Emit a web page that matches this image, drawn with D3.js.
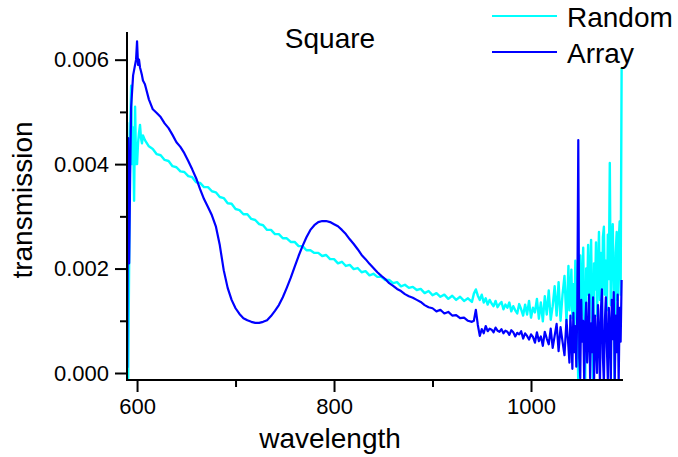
<!DOCTYPE html>
<html>
<head>
<meta charset="utf-8">
<script src="https://cdn.jsdelivr.net/npm/d3@7"></script>
<style>
  html, body { margin: 0; padding: 0; background: #fff; }
  svg { display: block; font-family: "Liberation Sans", Arial, sans-serif; }
</style>
</head>
<body>
<svg id="chart" width="678" height="457"></svg>
<script>
// ---------------- data ----------------
const wavelength = [
  590,591,592,593,594,595,596,597,598,599,600,601,602,603,604,605,606,
  608,612,616,620,624,628,632,636,640,644,
  648,652,656,660,664,668,672,676,680,684,
  688,692,696,700,704,708,712,716,720,724,
  728,732,736,740,744,748,752,756,760,764,
  768,772,776,780,784,788,792,796,800,804,
  808,812,816,820,824,828,832,836,840,844,
  848,852,856,860,864,868,872,876,880,884,
  888,892,896,900,904,908,912,916,920,924,
  928,932,936,940,
  942,944,946,948,950,952,954,956,958,960,
  962,964,966,968,970,972,974,976,978,980,
  982,984,986,988,990,992,994,996,998,1000,
  1002,1004,1006,1008,1010,1012,1014,1016,1018,1020,
  1022,1024,1026,1028,1030,1032,1034,1036,1038,
  1039,1040,1041,1042,1043,1044,1045,1046,1047,1048,
  1049,1050,1051,1052,1053,1054,1055,1056,1057,1058,
  1059,1060,1061,1062,1063,1064,1065,1066,1067,1068,
  1069,1070,1071,1072,1073,1074,1075,1076,1077,1078,
  1079,1080,1081,1082,1083,1084,1085,1086,1087,1088,
  1089,1090,1091,1092
];

const randomValues = [
  0.0048,-0.0001,0.0022,0.0046,0.0055,0.0040,0.0047,0.0033,0.0051,0.0040,0.0040,0.0044,0.0046,0.00475,0.0045,0.0044,0.00455,
  0.00446,0.00434,0.00429,0.00419,0.00417,0.00408,0.00406,0.00396,0.00394,0.00386,
  0.00385,0.00377,0.00375,0.00365,0.00364,0.00356,0.00356,0.00348,0.00346,0.00337,
  0.00335,0.00325,0.00324,0.00314,0.00312,0.00304,0.00304,0.00295,0.00293,0.00285,
  0.00283,0.00274,0.00274,0.00266,0.00266,0.00258,0.00258,0.00251,0.00251,0.00243,
  0.00243,0.00235,0.00235,0.00230,0.00230,0.00224,0.00226,0.00218,0.00218,0.00210,
  0.00213,0.00205,0.00207,0.00199,0.00201,0.00193,0.00195,0.00187,0.00190,0.00184,
  0.00184,0.00178,0.00178,0.00172,0.00174,0.00166,0.00169,0.00163,0.00165,0.00159,
  0.00161,0.00153,0.00157,0.00149,0.00153,0.00146,0.00150,0.00142,0.00148,0.00140,
  0.00146,0.00138,0.00143,0.00136,
  0.00152,0.00160,0.00148,0.00140,0.00150,0.00135,0.00143,0.00131,0.00140,0.00133,
  0.00128,0.00138,0.00126,0.00132,0.00136,0.00122,0.00131,0.00125,0.00135,0.00118,
  0.00128,0.00120,0.00114,0.00132,0.00122,0.00110,0.00131,0.00112,0.00138,0.00106,
  0.00125,0.00116,0.00142,0.00104,0.00135,0.00099,0.00147,0.00112,0.00158,0.00102,
  0.00128,0.00166,0.00110,0.00174,0.00100,0.00150,0.00186,0.00098,0.00205,
  0.00120,0.00150,0.00198,0.00105,0.00170,0.00092,0.00215,0.00140,0.00080,-0.00020,
  0.00190,0.00225,0.00110,0.00170,0.00240,0.00095,-0.00020,0.00200,0.00150,0.00245,
  0.00105,0.00180,0.00255,0.00120,-0.00020,0.00210,0.00160,0.00250,0.00110,0.00190,
  0.00270,0.00140,0.00230,0.00100,0.00260,0.00280,0.00150,0.00215,0.00120,0.00265,
  0.00180,0.00402,0.00130,0.00240,0.00285,0.00160,-0.00020,0.00230,0.00270,0.00140,
  0.00250,0.00290,0.00150,0.00584
];

const arrayValues = [
  0.0001,0.0045,0.0021,0.0038,0.0051,0.0054,0.0057,0.0058,0.0059,0.0060,0.00635,0.0059,0.0060,0.00585,0.00578,0.0057,0.0056,
  0.00553,0.00524,0.00505,0.00498,0.00490,0.00478,0.00469,0.00456,0.00442,0.00433,
  0.00421,0.00406,0.00390,0.00373,0.00352,0.00333,0.00318,0.00302,0.00281,0.00245,
  0.00197,0.00163,0.00140,0.00124,0.00113,0.00105,0.00101,0.00098,0.00096,0.00096,
  0.00098,0.00101,0.00109,0.00119,0.00130,0.00145,0.00163,0.00182,0.00203,0.00224,
  0.00243,0.00260,0.00274,0.00283,0.00289,0.00291,0.00291,0.00289,0.00285,0.00281,
  0.00274,0.00266,0.00256,0.00247,0.00237,0.00226,0.00218,0.00209,0.00201,0.00193,
  0.00186,0.00180,0.00172,0.00167,0.00161,0.00157,0.00151,0.00147,0.00144,0.00140,
  0.00136,0.00130,0.00126,0.00124,0.00118,0.00121,0.00114,0.00117,0.00110,0.00111,
  0.00105,0.00106,0.00100,0.00098,
  0.00100,0.00121,0.00092,0.00071,0.00084,0.00076,0.00090,0.00080,0.00085,0.00083,
  0.00078,0.00087,0.00081,0.00079,0.00084,0.00076,0.00081,0.00079,0.00073,0.00082,
  0.00078,0.00070,0.00077,0.00074,0.00080,0.00066,0.00076,0.00071,0.00064,0.00074,
  0.00069,0.00058,0.00078,0.00061,0.00070,0.00052,0.00079,0.00066,0.00055,0.00085,
  0.00048,0.00071,0.00094,0.00042,0.00088,0.00060,0.00034,0.00102,0.00050,
  0.00020,0.00110,0.00065,0.00008,0.00115,0.00040,0.00090,0.00012,0.00125,0.00446,
  0.00030,-0.00010,0.00140,0.00060,0.00100,-0.00015,0.00085,0.00135,0.00020,0.00070,
  0.00150,-0.00010,0.00095,0.00040,0.00145,-0.00020,0.00110,0.00060,0.00000,0.00130,
  0.00075,-0.00020,0.00120,0.00160,0.00030,-0.00020,0.00100,0.00145,0.00050,-0.00015,
  0.00125,0.00090,-0.00020,0.00140,0.00065,0.00155,-0.00020,0.00110,0.00040,0.00150,
  -0.00020,0.00125,0.00060,0.00178
];

const seriesNames = ["Random", "Array"];
const xTickMajor = [600, 800, 1000];
const xTickMinor = [700, 900];
const yTickMajor = [0.000, 0.002, 0.004, 0.006];
const yTickMinor = [0.001, 0.003, 0.005];
const titleText = "Square";
const xLabel = "wavelength";
const yLabel = "transmission";

// ---------------- layout ----------------
const svg = d3.select("#chart");
const L = 127, R = 623, T = 32, B = 380;
const colors = { Random: "#00ffff", Array: "#0000ff" };
const widths = { Random: 2.4, Array: 2.2 };

const x = d3.scaleLinear().domain([589.8, 1093.4]).range([L, R]);
const y = d3.scaleLinear().domain([-0.000134, 0.00653]).range([B, T]);

svg.append("defs").append("clipPath").attr("id", "plotclip")
  .append("rect").attr("x", L).attr("y", T - 10).attr("width", R - L + 1).attr("height", B - T + 10);

const line = d3.line().x(d => x(d[0])).y(d => y(d[1]));
const seriesData = {
  Random: wavelength.map((w, i) => [w, randomValues[i]]).filter(d => d[1] !== undefined),
  Array: wavelength.map((w, i) => [w, arrayValues[i]]).filter(d => d[1] !== undefined)
};

const plot = svg.append("g").attr("clip-path", "url(#plotclip)");
seriesNames.forEach(name => {
  plot.append("path")
    .datum(seriesData[name])
    .attr("fill", "none")
    .attr("stroke", colors[name])
    .attr("stroke-width", widths[name])
    .attr("stroke-linejoin", "round")
    .attr("d", line);
});

// ---------------- axes ----------------
const tickFont = 22;
const yAxisMajor = d3.axisLeft(y).tickValues(yTickMajor).tickSize(12).tickPadding(6).tickFormat(d3.format(".3f"));
const yAxisMinor = d3.axisLeft(y).tickValues(yTickMinor).tickSize(7).tickFormat("");
const xAxisMajor = d3.axisBottom(x).tickValues(xTickMajor).tickSize(12).tickPadding(6).tickFormat(d3.format("d"));
const xAxisMinor = d3.axisBottom(x).tickValues(xTickMinor).tickSize(7).tickFormat("");

function styleAxis(g) {
  g.select(".domain").remove();
  g.selectAll(".tick line").attr("stroke", "#000").attr("stroke-width", 2);
  g.selectAll(".tick text").attr("fill", "#000").style("font-size", tickFont + "px")
    .style("font-family", '"Liberation Sans", Arial, sans-serif');
}

svg.append("g").attr("transform", `translate(${L},0)`).call(yAxisMajor).call(styleAxis);
svg.append("g").attr("transform", `translate(${L},0)`).call(yAxisMinor).call(styleAxis);
svg.append("g").attr("transform", `translate(0,${B})`).call(xAxisMajor).call(styleAxis);
svg.append("g").attr("transform", `translate(0,${B})`).call(xAxisMinor).call(styleAxis);

// axis lines
svg.append("line").attr("x1", L).attr("x2", L).attr("y1", T).attr("y2", B + 1)
  .attr("stroke", "#000").attr("stroke-width", 2);
svg.append("line").attr("x1", L - 1).attr("x2", R).attr("y1", B).attr("y2", B)
  .attr("stroke", "#000").attr("stroke-width", 2);

// ---------------- labels ----------------
svg.append("text").attr("x", 330).attr("y", 448).attr("text-anchor", "middle")
  .style("font-size", "28px").attr("fill", "#000").text(xLabel);
svg.append("text").attr("transform", "translate(32,200) rotate(-90)").attr("text-anchor", "middle")
  .style("font-size", "28px").attr("fill", "#000").text(yLabel);
svg.append("text").attr("x", 330).attr("y", 48).attr("text-anchor", "middle")
  .style("font-size", "28px").attr("fill", "#000").text(titleText);

// ---------------- legend ----------------
seriesNames.forEach((name, i) => {
  const ly = 16 + i * 36;
  svg.append("line").attr("x1", 492).attr("x2", 557).attr("y1", ly).attr("y2", ly)
    .attr("stroke", colors[name]).attr("stroke-width", 2);
  svg.append("text").attr("x", 567).attr("y", ly + 11)
    .style("font-size", "28px").attr("fill", "#000").text(name);
});
</script>
</body>
</html>
